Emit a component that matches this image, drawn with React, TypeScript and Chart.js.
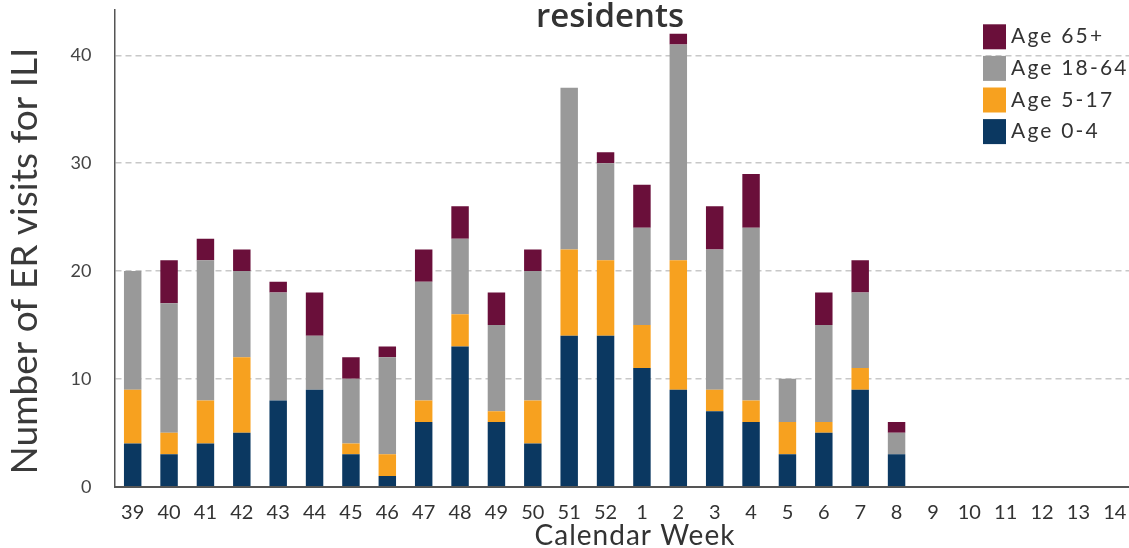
import React, { useEffect, useRef } from 'react';
import { Chart, registerables } from 'chart.js';

Chart.register(...registerables);

const weeks = ['39', '40', '41', '42', '43', '44', '45', '46', '47', '48', '49', '50', '51', '52',
  '1', '2', '3', '4', '5', '6', '7', '8', '9', '10', '11', '12', '13', '14'];

const age0to4 = [4, 3, 4, 5, 8, 9, 3, 1, 6, 13, 6, 4, 14, 14, 11, 9, 7, 6, 3, 5, 9, 3, 0, 0, 0, 0, 0, 0];
const age5to17 = [5, 2, 4, 7, 0, 0, 1, 2, 2, 3, 1, 4, 8, 7, 4, 12, 2, 2, 3, 1, 2, 0, 0, 0, 0, 0, 0, 0];
const age18to64 = [11, 12, 13, 8, 10, 5, 6, 9, 11, 7, 8, 12, 15, 9, 9, 20, 13, 16, 4, 9, 7, 2, 0, 0, 0, 0, 0, 0];
const age65plus = [0, 4, 2, 2, 1, 4, 2, 1, 3, 3, 3, 2, 0, 1, 4, 1, 4, 5, 0, 3, 3, 1, 0, 0, 0, 0, 0, 0];

const seriesLabels = ['Age 0-4', 'Age 5-17', 'Age 18-64', 'Age 65+'];
const seriesColors = ['#0B3861', '#F7A11F', '#999999', '#6A0F3A'];

const yTickStep = 10;
const yMax = 44.2;

const chartTitle = 'residents';
const xTitle = 'Calendar Week';
const yTitle = 'Number of ER visits for ILI';

const overlayPlugin = {
  id: 'overlayTexts',
  afterDraw(chart: any) {
    const ctx = chart.ctx as CanvasRenderingContext2D;
    ctx.save();
    ctx.fillStyle = '#333333';
    ctx.textAlign = 'center';
    ctx.textBaseline = 'alphabetic';

    // chart title (only its last line is visible)
    ctx.font = '600 33px "Open Sans"';
    ctx.fillText(chartTitle, 610, 27);

    // x axis title
    (ctx as any).letterSpacing = '1px';
    ctx.font = '28px Lato';
    ctx.fillText(xTitle, 635, 545);

    // y axis title
    (ctx as any).letterSpacing = '0px';
    ctx.save();
    ctx.translate(36.5, 261);
    ctx.rotate(-Math.PI / 2);
    ctx.font = '37px Lato';
    ctx.fillStyle = '#3a3a3a';
    ctx.fillText(yTitle, 0, 0);
    ctx.restore();

    // legend (reverse order, drawn over the plot area)
    const ds = chart.data.datasets;
    const order = ds.map((_: any, i: number) => i).reverse();
    ctx.textAlign = 'left';
    ctx.font = '21px Lato';
    (ctx as any).letterSpacing = '2.2px';
    order.forEach((di: number, row: number) => {
      const top = 24.3 + row * 31.6;
      ctx.fillStyle = ds[di].backgroundColor;
      ctx.fillRect(983, top, 23, 25);
      ctx.fillStyle = '#333333';
      ctx.fillText(ds[di].label, 1011, top + 19);
    });
    ctx.restore();
  },
};

export default function App() {
  const canvasRef = useRef<HTMLCanvasElement | null>(null);

  useEffect(() => {
    if (!canvasRef.current) return;
    const series = [age0to4, age5to17, age18to64, age65plus];
    const chart = new Chart(canvasRef.current, {
      type: 'bar',
      data: {
        labels: weeks,
        datasets: series.map((d, i) => ({
          label: seriesLabels[i],
          data: d,
          backgroundColor: seriesColors[i],
          borderWidth: 0,
          barPercentage: 0.48,
          categoryPercentage: 1,
        })),
      },
      options: {
        responsive: false,
        animation: false,
        layout: { padding: { top: 10, left: 0, right: 0, bottom: 0 } },
        plugins: {
          legend: { display: false },
          title: { display: false },
          tooltip: { enabled: false },
        },
        scales: {
          x: {
            stacked: true,
            grid: { display: false, drawTicks: false },
            border: { display: true, color: '#555555', width: 2 },
            ticks: {
              color: '#333333',
              font: { family: 'Lato', size: 20 },
              padding: 14,
              maxRotation: 0,
              autoSkip: false,
            },
            afterFit: (s: any) => {
              s.height = 61.3;
              s.paddingLeft = 0;
              s.paddingRight = 0;
            },
          },
          y: {
            stacked: true,
            min: 0,
            max: yMax,
            ticks: {
              stepSize: yTickStep,
              includeBounds: false,
              color: '#444444',
              font: { family: 'Lato', size: 18 },
              padding: 23,
            },
            grid: {
              color: (c: any) => (c.tick && c.tick.value === 0 ? 'rgba(0,0,0,0)' : '#c8c8c8'),
              lineWidth: 1.5,
              drawTicks: false,
            },
            border: { display: true, color: '#555555', width: 1.5, dash: [6, 4] },
            afterFit: (s: any) => {
              s.width = 114.5;
              s.paddingTop = 0;
              s.paddingBottom = 0;
            },
          },
        },
      },
      plugins: [overlayPlugin],
    });
    return () => chart.destroy();
  }, []);

  return (
    <div style={{ position: 'fixed', left: 0, top: 0, width: 1129, height: 548, overflow: 'hidden', background: '#ffffff' }}>
      <canvas ref={canvasRef} width={1133} height={548} style={{ display: 'block', width: 1133, height: 548 }} />
    </div>
  );
}
